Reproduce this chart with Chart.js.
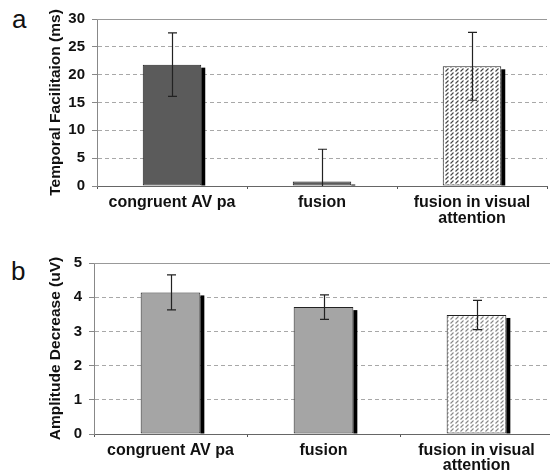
<!DOCTYPE html>
<html>
<head>
<meta charset="utf-8">
<script src="https://cdn.jsdelivr.net/npm/chart.js@4.4.1/dist/chart.umd.min.js"></script>
<style>
  html, body { margin: 0; padding: 0; background: #fff; overflow: hidden; }
  body { width: 550px; height: 473px; position: relative; }
  .panel { position: absolute; left: 0; overflow: hidden; }
  .letter { position: absolute; font: 26px "Liberation Sans", Arial, sans-serif; line-height: 1; color: #111; }
</style>
</head>
<body>
<div class="letter" style="left:12px; top:6px;">a</div>
<div class="letter" style="left:11px; top:258px;">b</div>
<div class="panel" style="top:0; width:550px; height:236px;">
  <canvas id="chartA" width="550" height="236"></canvas>
</div>
<div class="panel" style="top:240px; width:550px; height:233px;">
  <canvas id="chartB" width="556" height="233"></canvas>
</div>
<script>
// Data
const categories = ["congruent AV pa", "fusion", ["fusion in visual", "attention"]];
const facilitation = [21.8, 0.8, 21.5];
const facilitationErr = [5.7, 5.8, 6.1];
const facilitationTicks = [0, 5, 10, 15, 20, 25, 30];
const amplitude = [4.14, 3.71, 3.48];
const amplitudeErr = [0.51, 0.36, 0.43];
const amplitudeTicks = [0, 1, 2, 3, 4, 5];

const FONT = '"Liberation Sans", Arial, sans-serif';

// hatched fill for the third bar
function hatch(color) {
  const c = document.createElement("canvas");
  c.width = 5;
  c.height = 4;
  const g = c.getContext("2d");
  g.fillStyle = "#fff";
  g.fillRect(0, 0, 5, 4);
  g.strokeStyle = color;
  g.lineWidth = 1.1;
  g.beginPath();
  g.moveTo(0.5, 3.5);
  g.lineTo(3.5, 0.5);
  g.stroke();
  return g.createPattern(c, "repeat");
}

// black shadow on right side of each bar
const barShadow = {
  id: "barShadow",
  beforeDatasetsDraw(chart) {
    const ctx = chart.ctx;
    const area = chart.chartArea;
    ctx.save();
    ctx.fillStyle = "#000";
    chart.getDatasetMeta(0).data.forEach((bar) => {
      const top = Math.min(bar.y + 3, bar.base);
      ctx.fillRect(bar.x + bar.width / 2, top, 4, Math.min(bar.base, area.bottom) - top);
    });
    ctx.restore();
  },
};

// error bars + solid top frame
const errorBars = {
  id: "errorBars",
  afterDatasetsDraw(chart) {
    const ctx = chart.ctx;
    const area = chart.chartArea;
    const y = chart.scales.y;
    const ds = chart.data.datasets[0];
    ctx.save();
    ctx.strokeStyle = "#999";
    ctx.lineWidth = 1;
    ctx.beginPath();
    ctx.moveTo(area.left, area.top + 0.5);
    ctx.lineTo(area.right, area.top + 0.5);
    ctx.stroke();

    ctx.beginPath();
    ctx.rect(area.left, area.top - 5, area.right - area.left, area.bottom - area.top + 5);
    ctx.clip();
    ctx.strokeStyle = "#222";
    ctx.lineWidth = 1.2;
    chart.getDatasetMeta(0).data.forEach((bar, i) => {
      const v = ds.data[i];
      const e = ds.errors[i];
      const hi = y.getPixelForValue(v + e);
      const lo = y.getPixelForValue(v - e);
      const x = Math.round(bar.x) + 0.5;
      ctx.beginPath();
      ctx.moveTo(x, hi);
      ctx.lineTo(x, lo);
      ctx.moveTo(x - 4.5, hi);
      ctx.lineTo(x + 4.5, hi);
      ctx.moveTo(x - 4.5, lo);
      ctx.lineTo(x + 4.5, lo);
      ctx.stroke();
    });
    ctx.restore();
  },
};

function makeChart(id, opts) {
  const ticksList = opts.ticks;
  const maxTick = ticksList[ticksList.length - 1];
  return new Chart(document.getElementById(id), {
    type: "bar",
    data: {
      labels: categories,
      datasets: [
        {
          data: opts.values,
          errors: opts.errors,
          backgroundColor: [opts.fill, opts.fill, hatch(opts.hatchColor)],
          borderColor: "#222",
          borderWidth: 1,
          borderSkipped: false,
          barPercentage: 0.39,
          categoryPercentage: 1,
        },
      ],
    },
    options: {
      responsive: false,
      animation: false,
      events: [],
      layout: { padding: { left: 40, top: opts.top, right: 3, bottom: 0 } },
      plugins: { legend: { display: false }, tooltip: { enabled: false } },
      scales: {
        x: {
          offset: true,
          grid: { display: true, drawOnChartArea: false, offset: true, tickLength: 3, tickColor: "#555" },
          border: { color: "#666", width: 1 },
          ticks: {
            color: "#111",
            padding: 6,
            maxRotation: 0,
            autoSkip: false,
            font: { family: FONT, size: 16, weight: "bold", lineHeight: opts.lineHeight },
          },
          afterFit: (s) => { s.height = opts.xHeight; },
        },
        y: {
          min: ticksList[0],
          max: maxTick,
          ticks: {
            stepSize: ticksList[1] - ticksList[0],
            color: "#111",
            padding: 7,
            font: { family: FONT, size: 15, weight: "bold" },
          },
          grid: {
            color: (c) => (c.tick && (c.tick.value === 0 || c.tick.value === maxTick) ? "rgba(0,0,0,0)" : "#a8a8a8"),
            tickLength: 5,
            tickColor: "#888",
          },
          border: { color: "#888", width: 1, dash: [4, 3] },
          title: {
            display: true,
            text: opts.title,
            color: "#111",
            padding: { top: 6, bottom: 0 },
            font: { family: FONT, size: 15.5, weight: "bold" },
          },
          afterFit: (s) => { s.width = opts.yWidth; },
        },
      },
    },
    plugins: [barShadow, errorBars],
  });
}

makeChart("chartA", {
  values: facilitation,
  errors: facilitationErr,
  ticks: facilitationTicks,
  title: "Temporal Facilitaion (ms)",
  fill: "#5b5b5b",
  hatchColor: "#444",
  top: 19,
  xHeight: 50,
  yWidth: 57,
  lineHeight: 1.0,
});

makeChart("chartB", {
  values: amplitude,
  errors: amplitudeErr,
  ticks: amplitudeTicks,
  title: "Amplitude Decrease (uV)",
  fill: "#a5a5a5",
  hatchColor: "#888",
  top: 23,
  xHeight: 39,
  yWidth: 54,
  lineHeight: 0.95,
});
</script>
</body>
</html>
